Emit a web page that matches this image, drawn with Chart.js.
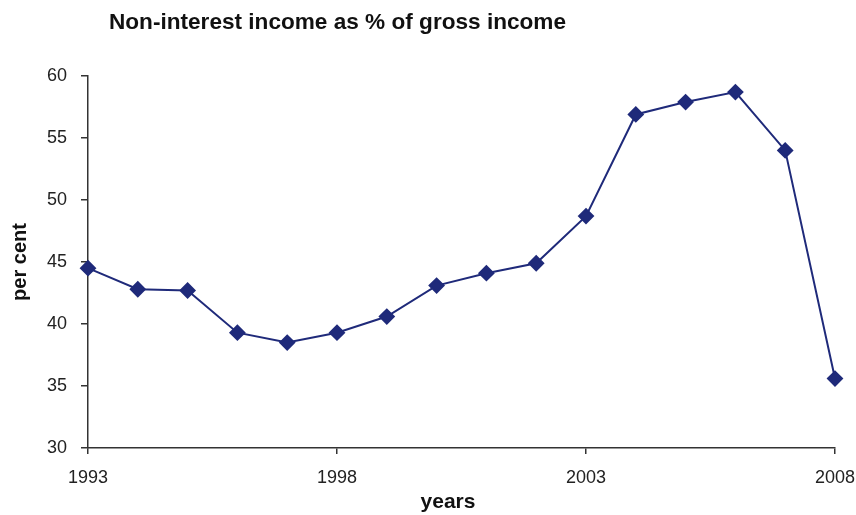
<!DOCTYPE html>
<html>
<head>
<meta charset="utf-8">
<script src="https://cdn.jsdelivr.net/npm/chart.js@4"></script>
<style>
  html, body { margin: 0; padding: 0; background: #fff; }
  #wrap { width: 856px; height: 515px; position: relative; }
</style>
</head>
<body>
<div id="wrap"><canvas id="incomeChart" width="856" height="515"></canvas></div>
<script>
const chartTitle = 'Non-interest income as % of gross income';
const xAxisTitle = 'years';
const years = [1993, 1994, 1995, 1996, 1997, 1998, 1999, 2000, 2001, 2002, 2003, 2004, 2005, 2006, 2007, 2008];
const nonInterestShare = [44.5, 42.8, 42.7, 39.3, 38.5, 39.3, 40.6, 43.1, 44.1, 44.9, 48.7, 56.9, 57.9, 58.7, 54.0, 35.6];
const xTickYears = [1993, 1998, 2003, 2008];

const lineColor = '#1f2a7a';
const axisColor = '#333333';
const fontFamily = '"Liberation Sans", Arial, sans-serif';

// heading and x-axis caption sit a bit left of centre in the original, so draw them by hand
const captionPlugin = {
    id: 'captions',
    afterDraw(chart) {
        const c = chart.ctx;
        c.save();
        c.fillStyle = '#111';
        c.textBaseline = 'alphabetic';
        c.font = 'bold 22.6px ' + fontFamily;
        c.textAlign = 'left';
        c.fillText(chartTitle, 109, 29);
        c.font = 'bold 21px ' + fontFamily;
        c.textAlign = 'center';
        c.fillText(xAxisTitle, 448, 508);
        c.restore();
    }
};

new Chart(document.getElementById('incomeChart'), {
    type: 'line',
    data: {
        datasets: [{
            label: 'Non-interest income',
            data: years.map((y, i) => ({ x: y, y: nonInterestShare[i] })),
            borderColor: lineColor,
            backgroundColor: lineColor,
            borderWidth: 2,
            pointStyle: 'rectRot',
            pointRadius: 7,
            pointHoverRadius: 7,
            tension: 0,
            clip: false
        }]
    },
    options: {
        responsive: false,
        animation: false,
        layout: { padding: { top: 76, right: 21, bottom: 0, left: 0 } },
        plugins: {
            legend: { display: false },
            tooltip: { enabled: false }
        },
        scales: {
            x: {
                type: 'linear',
                min: 1993,
                max: 2008,
                afterBuildTicks: axis => { axis.ticks = xTickYears.map(v => ({ value: v })); },
                afterFit: axis => {
                    axis.height = 67;
                    axis.paddingLeft = 0;
                    axis.paddingRight = 0;
                },
                border: { color: axisColor, width: 1.5 },
                grid: { display: true, drawOnChartArea: false, drawTicks: true, tickLength: 6, color: axisColor, lineWidth: 1.5 },
                ticks: {
                    color: '#222',
                    font: { family: fontFamily, size: 18 },
                    padding: 13,
                    maxRotation: 0,
                    callback: v => String(v)
                },
                title: { display: false }
            },
            y: {
                min: 30,
                max: 60,
                afterFit: axis => {
                    axis.width = 88;
                    axis.paddingTop = 0;
                    axis.paddingBottom = 0;
                },
                border: { color: axisColor, width: 1.5 },
                grid: { display: true, drawOnChartArea: false, drawTicks: true, tickLength: 7, color: axisColor, lineWidth: 1.5 },
                ticks: {
                    stepSize: 5,
                    color: '#222',
                    font: { family: fontFamily, size: 18 },
                    padding: 14
                },
                title: {
                    display: true,
                    text: 'per cent',
                    color: '#111',
                    font: { family: fontFamily, size: 20, weight: 'bold' },
                    padding: { top: 8, bottom: 0 }
                }
            }
        }
    },
    plugins: [captionPlugin]
});
</script>
</body>
</html>
